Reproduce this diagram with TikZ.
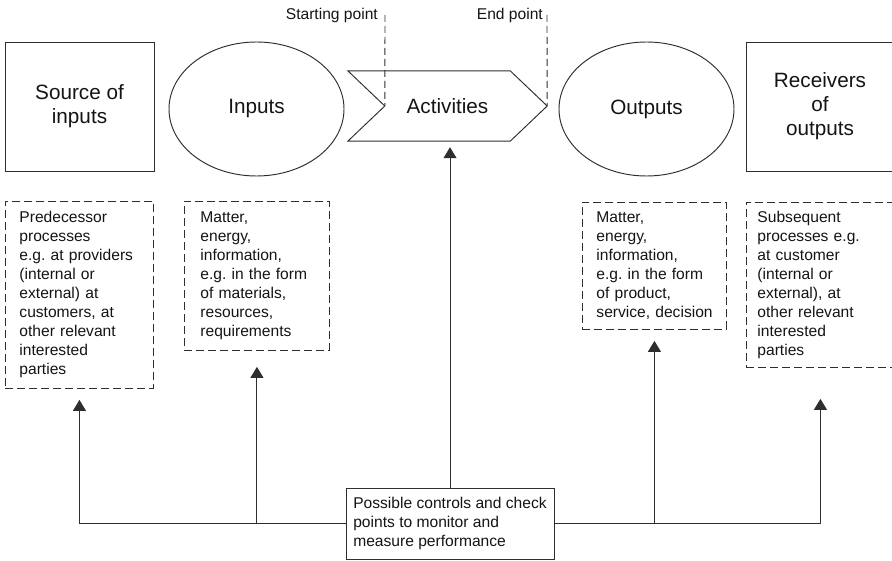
\documentclass[tikz,border=0pt]{standalone}
\usepackage{fontspec}
\setmainfont{Liberation Sans}
\frenchspacing
\usetikzlibrary{arrows.meta,shapes.geometric}
\definecolor{ink}{HTML}{2E2E2E}
\definecolor{txt}{HTML}{141414}
\newcommand{\smalltxt}{\fontsize{15.6}{19}\selectfont}
\newcommand{\bigtxt}{\fontsize{20.7}{24}\selectfont}
\tikzset{
  solidbox/.style={draw=ink, line width=0.95pt, rectangle, inner sep=0pt, align=center, font=\bigtxt, text=txt},
  ellbox/.style={draw=ink, line width=0.95pt, ellipse, inner sep=0pt, minimum width=175pt, minimum height=134pt, font=\bigtxt, text=txt},
  notebox/.style={draw=ink, line width=0.9pt, dash pattern=on 8pt off 4pt, rectangle, anchor=north west,
    inner ysep=0pt, align=left, font=\smalltxt, text=txt},
  ctrlbox/.style={draw=ink, line width=0.95pt, rectangle, inner sep=0pt, align=left, font=\smalltxt, text=txt},
  conn/.style={draw=ink, line width=0.95pt},
  arrowconn/.style={conn, -{Triangle[length=11pt,width=13pt]}},
  marker/.style={draw=ink, line width=0.9pt, dash pattern=on 7pt off 4pt},
  tag/.style={font=\smalltxt, text=txt, inner sep=0pt}
}
\begin{document}
\begin{tikzpicture}[x=1pt,y=-1pt]
\useasboundingbox (0,0) rectangle (892,561);
\clip (0,0) rectangle (892,561);

% main chain
\node[solidbox, minimum width=149pt, minimum height=129pt] (src) at (79.5,106.5) {Source of\\inputs};
\node[ellbox] (inp) at (256.5,109) {Inputs};
\node[inner sep=0pt, minimum width=199pt, minimum height=70pt, font=\bigtxt, text=txt] (act) at (447.5,106) {Activities};
\draw[conn] (act.north west) -- ([xshift=-37pt]act.north east) -- (act.east)
  -- ([xshift=-37pt]act.south east) -- (act.south west) -- ([xshift=37pt]act.west) -- cycle;
\node[ellbox] (out) at (646.5,109) {Outputs};
\node[solidbox, minimum width=148pt, minimum height=129pt] (rcv) at (820,106.5) {Receivers\\of\\outputs};

% start and end markers
\coordinate (spTop) at (385,15);
\coordinate (epTop) at (547,15);
\node[tag, anchor=base east] (spLabel) at (378,20) {Starting point};
\node[tag, anchor=base east] (epLabel) at (543,20) {End point};
\draw[marker] (spTop) -- ([xshift=37pt]act.west);
\draw[marker] (epTop) -- (act.east);

% descriptions
\node[notebox, inner xsep=14pt, text width=120pt, minimum height=187pt] (d1) at (5,201)
  {Predecessor\\processes\\\mbox{e.g. at providers}\\\mbox{(internal or}\\\mbox{external) at}\\\mbox{customers, at}\\\mbox{other relevant}\\interested\\parties};
\node[notebox, inner xsep=16pt, text width=113pt, minimum height=149pt] (d2) at (184,201)
  {Matter,\\energy,\\information,\\\mbox{e.g. in the form}\\\mbox{of materials,}\\resources,\\requirements};
\node[notebox, inner xsep=14pt, text width=116pt, minimum height=127pt] (d3) at (582,202)
  {Matter,\\energy,\\information,\\\mbox{e.g. in the form}\\\mbox{of product,}\\\mbox{service, decision}};
\node[notebox, inner xsep=11pt, text width=126pt, minimum height=165pt] (d4) at (746,202)
  {Subsequent\\\mbox{processes e.g.}\\\mbox{at customer}\\\mbox{(internal or}\\\mbox{external), at}\\\mbox{other relevant}\\interested\\parties};

% control box and connectors
\node[ctrlbox, minimum width=208pt, minimum height=71pt] (ctrl) at (450,523.5)
  {Possible controls and check\\points to monitor and\\measure performance};
\draw[arrowconn, shorten >=11pt] (ctrl.west) -| (d1.south);
\draw[arrowconn, shorten >=16pt] (ctrl.west -| d2.south) -- (d2.south);
\draw[arrowconn, shorten >=6pt] (ctrl.north) -- (ctrl.north |- act.south);
\draw[arrowconn, shorten >=11pt] (ctrl.east -| d3.south) -- (d3.south);
\draw[arrowconn, shorten >=31pt] (ctrl.east) -| (d4.south);
\end{tikzpicture}
\end{document}
